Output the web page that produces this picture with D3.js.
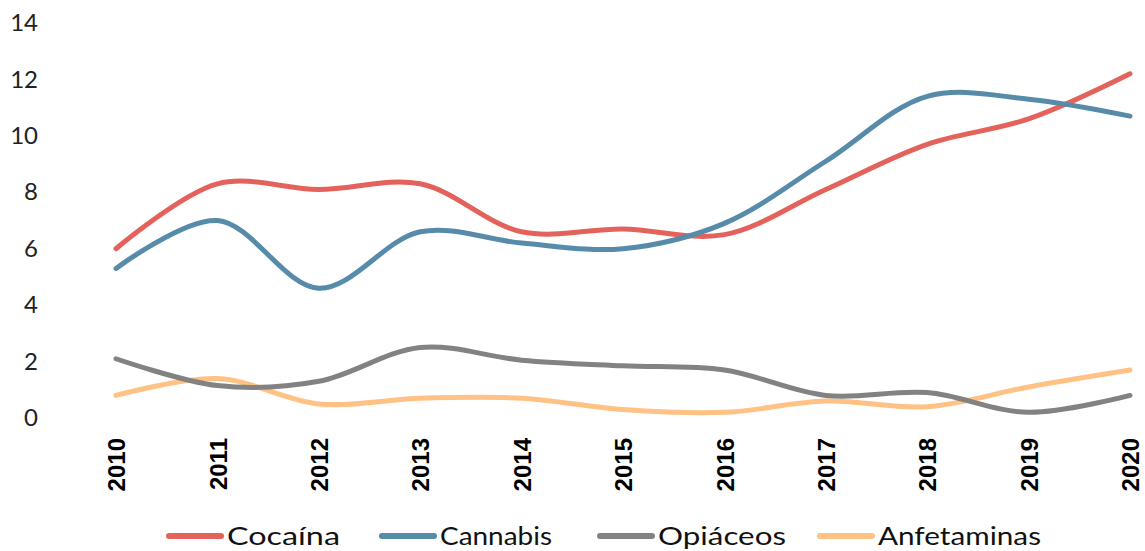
<!DOCTYPE html>
<html>
<head>
<meta charset="utf-8">
<script src="https://cdn.jsdelivr.net/npm/d3@7"></script>
<style>
  body { margin: 0; background: #fff; }
  svg { display: block; }
</style>
</head>
<body>
<svg id="chart" width="1145" height="551"></svg>
<script>
// Data
const years = ['2010','2011','2012','2013','2014','2015','2016','2017','2018','2019','2020'];
const cocaina = [6.0, 8.3, 8.1, 8.3, 6.6, 6.7, 6.5, 8.1, 9.7, 10.6, 12.2];
const cannabis = [5.3, 7.0, 4.6, 6.6, 6.2, 6.0, 6.9, 9.1, 11.4, 11.3, 10.7];
const opiaceos = [2.1, 1.15, 1.3, 2.5, 2.05, 1.85, 1.7, 0.8, 0.9, 0.2, 0.8];
const anfetaminas = [0.8, 1.4, 0.5, 0.7, 0.7, 0.3, 0.2, 0.6, 0.4, 1.1, 1.7];
const yTicks = [0, 2, 4, 6, 8, 10, 12, 14];

const seriesNames = ['Cocaína', 'Cannabis', 'Opiáceos', 'Anfetaminas'];
const seriesValues = [cocaina, cannabis, opiaceos, anfetaminas];
const seriesColors = ['#e3635c', '#568ba9', '#828282', '#ffc284'];

// Draw chart
const svg = d3.select('#chart');

const x = d3.scalePoint().domain(years).range([116, 1130]);
const y = d3.scaleLinear().domain([0, 14]).range([418, 23]);

// Y axis labels (no line, no ticks)
const yAxis = svg.append('g')
  .attr('transform', 'translate(38,0)')
  .call(d3.axisLeft(y).tickValues(yTicks).tickSize(0).tickPadding(0));
yAxis.select('.domain').remove();
yAxis.selectAll('text')
  .style('font-family', 'Lato, sans-serif')
  .style('font-size', '24px')
  .attr('fill', '#222');

// X axis labels, rotated
const xAxis = svg.append('g')
  .attr('transform', 'translate(0,438)')
  .call(d3.axisBottom(x).tickSize(0));
xAxis.select('.domain').remove();
xAxis.selectAll('text')
  .attr('transform', 'rotate(-90)')
  .attr('x', 0)
  .attr('y', 0)
  .attr('dy', '0.36em')
  .style('text-anchor', 'end')
  .style('font-family', 'Liberation Sans, Arial, sans-serif')
  .style('font-weight', 'bold')
  .style('font-size', '24px')
  .attr('fill', '#000');

// Smoothed lines
const line = d3.line()
  .x((d, i) => x(years[i]))
  .y(d => y(d))
  .curve(d3.curveCatmullRom.alpha(0.5));

// draw order: later series on top
const drawOrder = [3, 2, 0, 1];
drawOrder.forEach(k => {
  svg.append('path')
    .datum(seriesValues[k])
    .attr('d', line)
    .attr('fill', 'none')
    .attr('stroke', seriesColors[k])
    .attr('stroke-width', 5)
    .attr('stroke-linecap', 'round');
});

// Legend
const legendX = [167, 380, 598, 818];
const legendW = [113, 112, 128, 163];
const legend = svg.append('g').attr('class', 'legend');
seriesNames.forEach((name, i) => {
  const g = legend.append('g').attr('transform', `translate(${legendX[i]},536)`);
  g.append('line')
    .attr('x1', 2).attr('x2', 54)
    .attr('y1', 0).attr('y2', 0)
    .attr('stroke', seriesColors[i])
    .attr('stroke-width', 6)
    .attr('stroke-linecap', 'round');
  g.append('text')
    .attr('x', 60)
    .attr('y', 0)
    .attr('dy', '0.36em')
    .attr('textLength', legendW[i])
    .attr('lengthAdjust', 'spacingAndGlyphs')
    .style('font-family', 'Lato, sans-serif')
    .style('font-size', '25px')
    .attr('fill', '#111')
    .text(name);
});
</script>
</body>
</html>
